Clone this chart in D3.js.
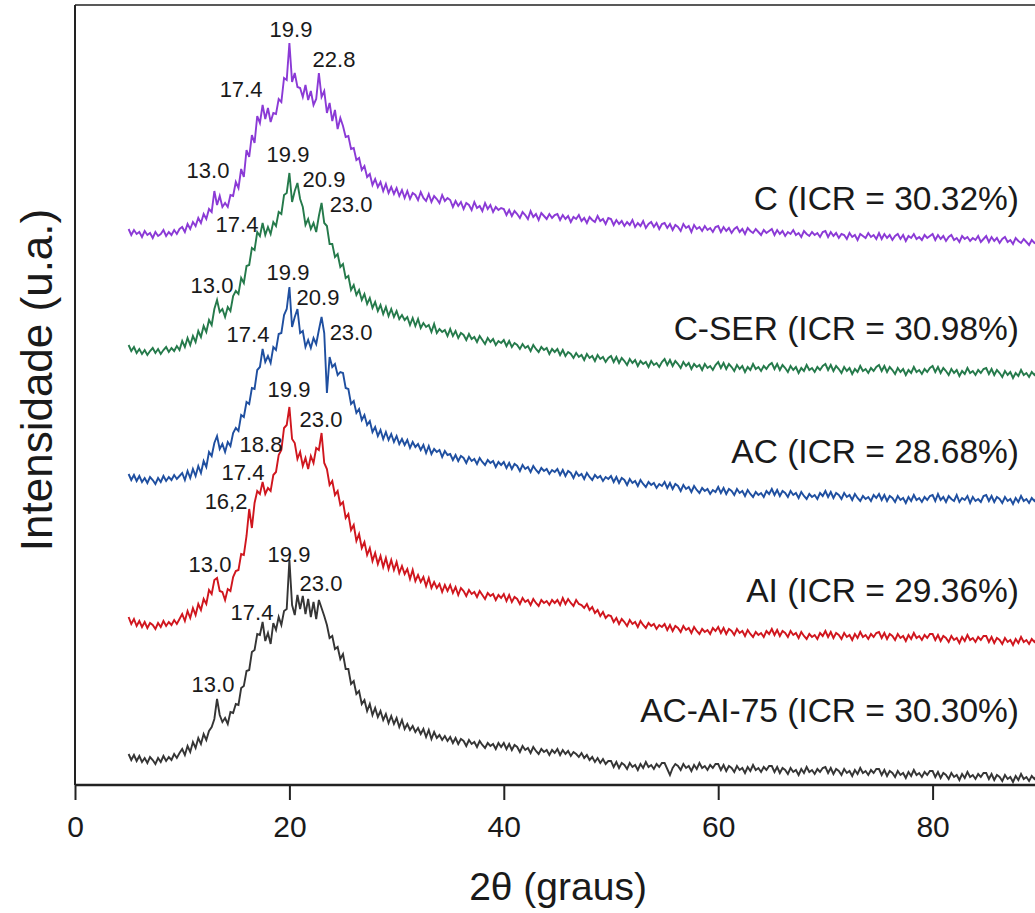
<!DOCTYPE html>
<html>
<head>
<meta charset="utf-8">
<script src="https://cdn.jsdelivr.net/npm/d3@7"></script>
<style>
  html, body { margin: 0; padding: 0; background: #fff; }
  svg { display: block; }
  text { font-family: "Liberation Sans", Arial, sans-serif; fill: #1a1a1a; }
</style>
</head>
<body>
<svg id="chart" width="1035" height="913"></svg>
<script>
// 2θ grid (degrees), 0.25° step from 5 to 90
const theta = d3.range(5, 90.0001, 0.25);

// Intensities (a.u., stacked as plotted)
const seriesC = [
556,550,555,551,553,548,554,550,552,547,553,549,551,555,549,553,550,555,551,556,
558,553,561,556,563,559,567,562,571,566,576,573,594,580,589,578,582,578,590,589,
603,597,616,608,635,628,650,642,669,662,680,666,677,663,672,671,686,683,707,705,
742,703,712,698,697,688,700,685,694,680,686,712,688,694,672,682,664,675,656,667,
659,648,649,636,637,625,627,615,619,608,611,600,606,598,603,594,601,592,598,591,
597,589,595,587,594,586,592,590,585,593,587,584,591,583,589,586,582,590,584,587,
585,578,584,579,583,576,582,580,575,583,577,579,574,582,576,580,573,578,575,577,
576,570,575,569,574,571,567,573,570,566,574,568,571,565,572,569,566,571,567,570,
571,565,570,566,569,563,568,566,570,564,567,562,568,565,563,569,564,566,561,567,
566,560,565,561,564,559,563,560,565,558,562,559,564,557,561,563,558,562,556,561,
562,557,561,555,560,558,554,561,557,559,553,560,556,558,554,559,555,557,553,558,
559,553,558,554,557,552,556,558,553,556,551,557,554,552,556,553,550,555,552,554,
556,550,555,551,554,549,553,551,555,550,552,548,554,551,549,553,550,552,548,553,
554,548,553,549,552,547,551,550,546,552,548,550,545,551,549,547,552,548,550,546,
552,546,551,547,550,545,549,551,546,550,544,549,547,551,546,548,545,550,547,549,
551,545,550,546,549,544,548,550,545,547,543,549,546,548,544,547,545,549,543,546,
549,543,548,544,547,542,546,548,543,545,541,547,544,542,546,543,540,545,542,544,
543];

const seriesCSER = [
440,434,438,432,436,431,435,430,434,437,432,436,431,435,438,433,437,434,439,435,
444,438,447,440,449,443,454,448,459,453,465,460,476,485,473,476,468,478,474,489,
494,491,507,502,519,520,537,535,553,549,562,550,558,551,563,559,573,571,590,592,
612,583,594,602,586,578,560,566,556,562,553,569,582,562,559,541,541,528,531,518,
521,507,509,495,500,490,495,485,491,481,487,477,483,474,480,471,478,469,476,468,
474,466,470,465,468,460,467,459,466,457,462,458,460,453,461,452,456,453,455,449,
456,449,454,447,452,450,445,451,446,448,443,449,445,441,447,443,446,440,444,442,
445,439,444,438,442,440,436,441,437,439,434,440,436,433,438,435,437,431,436,433,
436,430,435,429,433,431,427,432,428,430,425,431,427,429,424,430,426,428,423,427,
429,423,428,422,427,424,420,426,422,425,419,424,421,423,418,424,420,422,418,423,
426,420,425,419,424,421,417,423,419,422,416,421,418,420,415,421,417,419,415,420,
423,417,422,416,421,418,414,420,416,419,413,418,415,421,416,418,414,419,416,420,
422,416,421,415,420,417,413,419,415,418,412,417,414,420,415,417,413,418,415,419,
421,415,420,414,419,416,412,418,414,417,411,416,413,419,414,416,412,417,414,418,
420,414,419,413,418,415,411,417,413,416,410,415,412,418,413,415,411,416,413,417,
419,413,418,412,417,414,410,416,412,415,409,414,411,417,412,414,410,415,412,416,
417,411,416,410,415,412,408,414,410,413,407,412,409,415,410,412,408,413,410,414,
412];

const seriesAC = [
311,305,310,304,309,303,307,302,308,305,301,307,303,309,304,308,305,310,306,309,
312,305,314,307,316,309,319,312,324,318,333,329,342,349,336,341,333,343,339,352,
357,354,370,368,383,381,397,396,415,418,436,423,429,422,438,435,451,452,470,476,
498,458,468,476,452,454,438,445,437,447,441,455,468,452,392,428,418,421,410,413,
412,397,396,381,384,372,376,365,370,360,364,353,358,349,355,346,353,345,351,343,
349,341,346,340,345,337,343,338,341,335,340,332,339,331,336,333,335,328,334,330,
331,325,330,324,329,327,322,328,324,326,321,327,323,320,325,322,324,318,323,320,
323,317,322,316,321,319,314,320,316,318,313,319,315,312,317,314,316,311,315,313,
316,310,315,309,314,312,307,313,309,311,306,312,308,305,310,307,309,304,308,306,
309,303,308,302,307,305,300,306,302,304,299,305,301,298,303,300,302,297,301,299,
303,297,302,296,301,299,294,300,296,298,293,299,295,292,297,294,296,291,295,293,
298,292,297,291,296,294,290,296,292,294,289,295,291,288,293,290,292,288,294,291,
296,290,295,289,294,292,288,294,290,292,287,293,289,286,291,288,290,286,292,289,
294,288,293,287,292,290,286,292,288,290,285,291,287,284,289,286,288,284,290,287,
291,285,290,284,289,287,283,289,285,287,282,288,284,290,285,287,283,288,285,289,
290,284,291,285,288,283,289,286,284,290,283,287,285,289,282,288,284,286,283,289,
290,284,289,283,288,286,282,288,284,286,281,287,283,289,284,286,282,287,284,288,
287];

const seriesAI = [
168,161,166,159,164,158,163,157,162,160,156,162,158,164,159,163,160,165,161,166,
171,164,174,167,177,170,181,175,186,181,195,191,205,207,194,193,185,196,194,208,
214,215,231,230,249,276,257,282,294,291,303,291,297,294,310,313,330,335,357,360,
378,346,342,326,333,319,327,316,329,322,337,335,352,322,316,300,304,290,294,280,
283,267,271,255,260,244,251,237,243,230,237,224,232,221,229,218,227,216,225,215,
223,212,219,211,216,206,215,204,210,203,208,199,207,197,203,197,201,193,200,194,
200,192,198,190,197,194,189,195,191,193,188,194,190,186,192,189,191,185,190,187,
191,184,190,183,188,186,181,187,183,185,180,186,182,179,185,182,184,180,185,182,
185,180,187,181,186,182,179,185,181,180,177,181,175,178,172,175,169,173,167,170,
169,163,167,161,166,163,159,165,161,163,158,164,160,157,162,159,161,156,160,158,
161,155,160,154,159,157,153,159,155,157,152,158,154,151,156,153,155,151,157,154,
158,152,157,151,156,154,150,156,152,154,149,155,151,148,153,150,152,148,154,151,
156,150,155,149,154,152,148,154,150,152,147,153,149,146,151,148,150,146,152,149,
154,148,153,147,152,150,146,152,148,150,145,151,147,153,148,150,146,151,148,152,
153,147,152,146,151,149,145,151,147,149,144,150,146,152,147,149,145,150,147,151,
151,145,150,144,149,147,143,149,145,147,142,148,144,150,145,147,143,148,145,149,
149,143,148,142,147,145,141,147,143,145,140,146,142,148,143,145,141,146,143,147,
145];

const seriesACAI75 = [
31,25,30,24,29,23,27,22,28,25,21,27,23,29,24,28,25,31,27,32,
36,30,39,33,43,37,47,41,51,45,54,58,66,86,70,63,67,61,73,72,
81,80,97,99,114,115,133,135,151,150,163,144,152,141,162,155,168,160,174,176,
225,180,170,190,176,189,171,186,168,183,166,185,177,169,160,147,149,136,138,126,
131,116,116,101,104,91,94,81,85,74,81,70,77,68,74,65,71,62,69,61,
67,58,65,56,61,55,59,53,57,51,56,48,55,46,53,47,50,45,49,44,
48,42,47,41,46,44,39,45,41,43,38,44,40,37,42,39,41,36,42,38,
42,36,41,35,40,38,33,39,35,37,32,38,34,31,36,33,35,30,35,32,
36,30,35,31,34,29,33,31,28,32,27,30,25,28,23,27,22,26,21,24,
24,18,23,17,22,20,16,22,18,20,15,21,17,23,18,20,16,21,18,22,
22,16,10,17,21,19,15,21,17,19,14,20,16,22,17,19,15,20,17,21,
21,15,20,14,19,17,13,19,15,17,12,18,14,20,15,17,13,18,15,19,
19,13,18,12,17,15,11,17,13,15,10,16,12,18,13,15,11,16,13,17,
18,12,17,11,16,14,10,16,12,14,9,15,11,17,12,14,10,15,12,16,
16,10,15,9,14,12,8,14,10,12,7,13,9,15,10,12,8,13,10,14,
14,8,13,7,12,10,6,12,8,10,5,11,7,13,8,10,6,11,8,12,
12,6,11,5,10,8,4,10,6,8,3,9,5,11,6,8,4,9,6,10,
8];

const sampleNames = ["C (ICR = 30.32%)", "C-SER (ICR = 30.98%)", "AC (ICR = 28.68%)", "AI (ICR = 29.36%)", "AC-AI-75 (ICR = 30.30%)"];
const sampleColors = ["#8b3ad6", "#257a4b", "#1f4fa0", "#d0161e", "#353535"];
const sampleLabelY = [575, 445, 322, 183, 63]; // intensity level of each sample label

// peak annotations: [text, 2θ position, intensity position]
const peaksC     = [["19.9", 20.15, 748], ["22.8", 24.16, 718], ["17.4", 15.49, 688], ["13.0", 12.41, 607]];
const peaksCSER  = [["19.9", 19.87, 623], ["20.9", 23.23, 598], ["23.0", 25.75, 573], ["17.4", 15.11, 553], ["13.0", 12.78, 492]];
const peaksAC    = [["19.9", 19.87, 505], ["20.9", 22.67, 480], ["23.0", 25.75, 445], ["17.4", 16.14, 443]];
const peaksAI    = [["19.9", 19.96, 388], ["23.0", 22.95, 358], ["18.8", 17.35, 333], ["17.4", 15.67, 305], ["16,2", 14.09, 276], ["13.0", 12.59, 213]];
const peaksACAI  = [["19.9", 19.96, 223], ["23.0", 22.95, 194], ["17.4", 16.51, 165], ["13.0", 12.87, 93]];

const xTicks = [0, 20, 40, 60, 80];
const xTitle = "2θ (graus)";
const yTitle = "Intensidade (u.a.)";

const allSeries = [seriesC, seriesCSER, seriesAC, seriesAI, seriesACAI75];
const allPeaks = [peaksC, peaksCSER, peaksAC, peaksAI, peaksACAI];

// ---- layout ----
const svg = d3.select("#chart");
const padL = 75, axisY = 785, frameTop = 5, W = 1035;
const x = d3.scaleLinear().domain([0, 90]).range([padL, padL + 90 * 10.72]);
const y = d3.scaleLinear().domain([0, 785]).range([axisY, 0]);

const line = d3.line().x((d, i) => x(theta[i])).y(d => y(d));

allSeries.forEach((s, k) => {
  svg.append("path")
    .datum(s)
    .attr("d", line)
    .attr("fill", "none")
    .attr("stroke", sampleColors[k])
    .attr("stroke-width", 1.9)
    .attr("stroke-linejoin", "miter");
});

// frame: left, top and bottom axis lines
svg.append("line").attr("x1", padL).attr("x2", padL).attr("y1", frameTop).attr("y2", axisY)
  .attr("stroke", "#222").attr("stroke-width", 2);
svg.append("line").attr("x1", padL).attr("x2", W).attr("y1", frameTop).attr("y2", frameTop)
  .attr("stroke", "#222").attr("stroke-width", 1.5);

const xAxis = d3.axisBottom(x).tickValues(xTicks).tickSize(15).tickSizeOuter(0).tickPadding(16);
const gx = svg.append("g").attr("transform", `translate(0,${axisY})`).call(xAxis);
gx.select(".domain").attr("d", `M${padL},0H${W}`).attr("stroke", "#222").attr("stroke-width", 2.4);
gx.selectAll(".tick line").attr("stroke", "#222").attr("stroke-width", 2);
gx.selectAll(".tick text").attr("font-size", 30).attr("font-family", "Liberation Sans, Arial, sans-serif").attr("fill", "#1a1a1a");

// axis titles
svg.append("text").attr("x", 558).attr("y", 900).attr("text-anchor", "middle")
  .attr("font-size", 39).text(xTitle);
svg.append("text").attr("transform", "translate(52,380) rotate(-90)").attr("text-anchor", "middle")
  .attr("font-size", 44).text(yTitle);

// sample labels
sampleNames.forEach((n, k) => {
  svg.append("text").attr("x", 1019).attr("y", y(sampleLabelY[k]))
    .attr("text-anchor", "end").attr("font-size", 33.5).text(n);
});

// peak labels
allPeaks.forEach(list => {
  list.forEach(p => {
    svg.append("text").attr("x", x(p[1])).attr("y", y(p[2]))
      .attr("text-anchor", "middle").attr("font-size", 22).text(p[0]);
  });
});
</script>
</body>
</html>
